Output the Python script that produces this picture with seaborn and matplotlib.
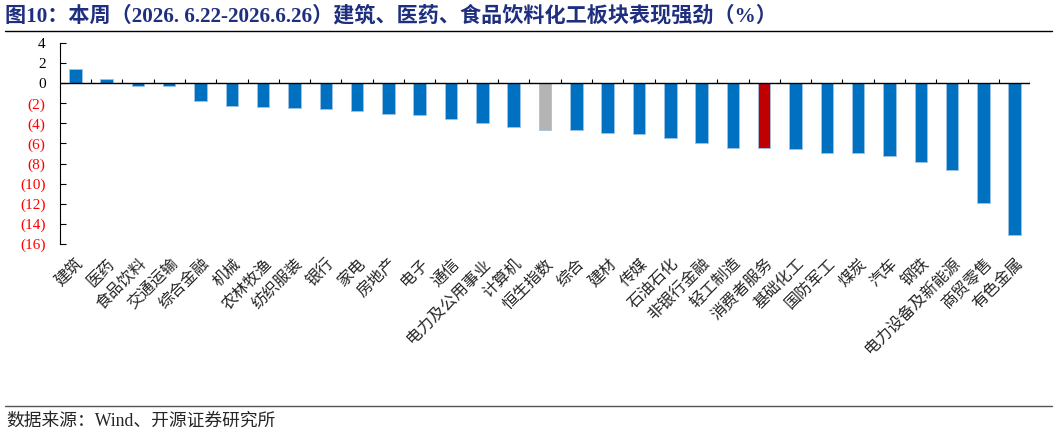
import numpy as np
import matplotlib
matplotlib.use("Agg")
import matplotlib.pyplot as plt
from matplotlib.lines import Line2D
from matplotlib.ticker import FuncFormatter
import seaborn as sns

# Data (weekly change, %)
sectors = ['建筑', '医药', '食品饮料', '交通运输', '综合金融', '机械', '农林牧渔', '纺织服装',
           '银行', '家电', '房地产', '电子', '通信', '电力及公用事业', '计算机', '恒生指数',
           '综合', '建材', '传媒', '石油石化', '非银行金融', '轻工制造', '消费者服务', '基础化工',
           '国防军工', '煤炭', '汽车', '钢铁', '电力设备及新能源', '商贸零售', '有色金属']
changes = [1.39, 0.40, -0.24, -0.30, -1.80, -2.26, -2.36, -2.43,
           -2.59, -2.79, -3.05, -3.15, -3.58, -3.95, -4.38, -4.62,
           -4.65, -4.98, -5.07, -5.44, -5.97, -6.40, -6.44, -6.57,
           -6.97, -6.98, -7.20, -7.80, -8.63, -11.88, -15.10]
index_name = '恒生指数'
focus_name = '消费者服务'
y_ticks = list(range(-16, 5, 2))

BLUE = '#0070C0'
RED = '#C00000'
GREY = '#B4B4B4'
colors = {s: (GREY if s == index_name else RED if s == focus_name else BLUE) for s in sectors}

sns.set_style("white")
cjk = ['Noto Sans CJK SC', 'DejaVu Sans']
serif_cjk = ['Liberation Serif', 'Noto Sans CJK SC']
plt.rcParams['font.family'] = cjk

fig = plt.figure(figsize=(10.57, 4.36), dpi=100)
ax = fig.add_axes([0.0564, 0.4404, 0.9184, 0.461])

sns.barplot(x=sectors, y=changes, hue=sectors, palette=colors, legend=False, saturation=1,
            width=0.4, edgecolor='#9DC3E6', linewidth=0.6, ax=ax)

ax.set_xlim(-0.5, len(sectors) - 0.5)
ax.set_ylim(-16, 4)
ax.set_yticks(y_ticks)
ax.yaxis.set_major_formatter(FuncFormatter(lambda v, p: f"({abs(v):.0f})" if v < 0 else f"{v:.0f}"))
ax.tick_params(axis='y', left=True, direction='in', length=4, width=0.8, color='black',
               pad=10, labelsize=11)
for lab, v in zip(ax.get_yticklabels(), y_ticks):
    lab.set_family(serif_cjk)
    lab.set_color('#FF0000' if v < 0 else 'black')

ax.set_xticks(range(len(sectors)))
ax.set_xticklabels(sectors, rotation=45, ha='right', rotation_mode='anchor', fontsize=11.5)
ax.tick_params(axis='x', length=0, pad=8)
ax.set_xlabel('')
ax.set_ylabel('')

for side in ['top', 'right', 'bottom']:
    ax.spines[side].set_visible(False)
ax.spines['left'].set_color('black')
ax.spines['left'].set_linewidth(0.8)

# zero line with small separators between categories
ax.axhline(0, color='black', linewidth=1.0, zorder=3)
ax.vlines(np.arange(0.5, len(sectors), 1.0), 0, 0.4, color='black', linewidth=0.8, zorder=3)

# title, rules and source
fig.text(0.005, 0.963, '图10：本周（2026. 6.22-2026.6.26）建筑、医药、食品饮料化工板块表现强劲（%）',
         fontsize=15.2, fontweight='bold', color='#1F2F7F', family=serif_cjk, va='center')
fig.add_artist(Line2D([0.005, 0.995], [0.929, 0.929], color='black', linewidth=1.0))
fig.add_artist(Line2D([0.005, 0.995], [0.069, 0.069], color='#555555', linewidth=1.0))
fig.text(0.006, 0.035, '数据来源：Wind、开源证券研究所', fontsize=12.8, family=serif_cjk, va='center')

fig.savefig('out.png', dpi=100)
